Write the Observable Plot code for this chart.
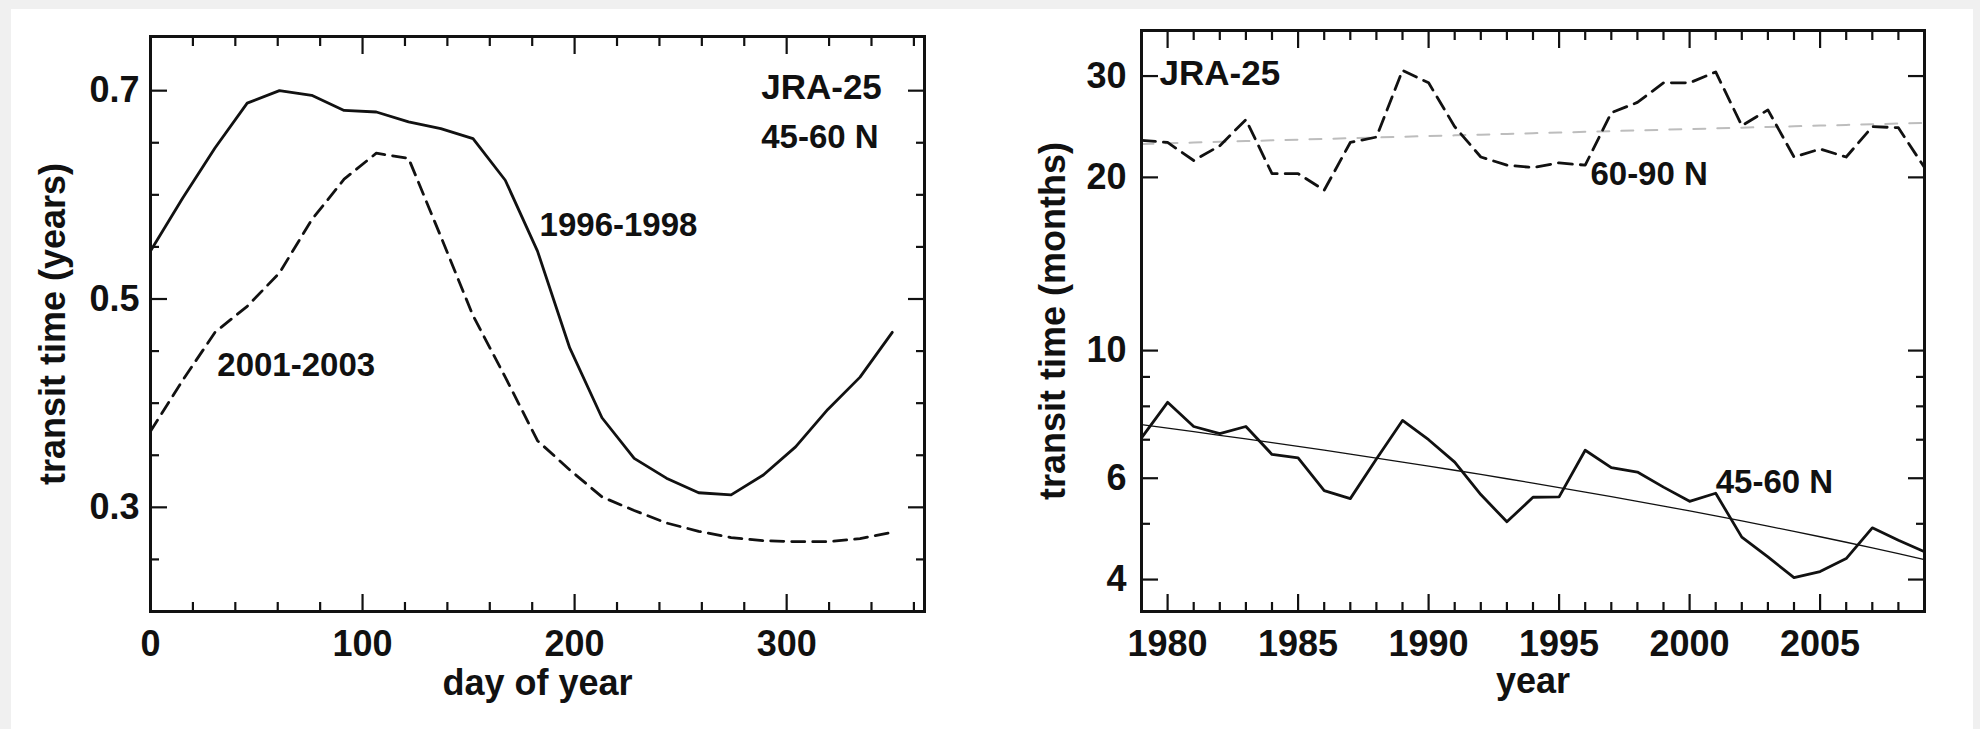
<!DOCTYPE html>
<html>
<head>
<meta charset="utf-8">
<script src="https://cdn.jsdelivr.net/npm/d3@7"></script>
<script src="https://cdn.jsdelivr.net/npm/@observablehq/plot@0.6"></script>
<style>
  html, body { margin: 0; padding: 0; background: #f0f0f0; width: 1980px; height: 729px; overflow: hidden; }
  #page { position: absolute; left: 11px; top: 9px; width: 1962px; height: 720px; background: #ffffff; }
  #left { position: absolute; left: 0; top: 0; }
  #right { position: absolute; left: 990px; top: 0; }
</style>
</head>
<body>
<div id="page"></div>
<div id="left"></div>
<div id="right"></div>
<script>
// ---------- Left panel data: seasonal transit time (years), 45-60 N ----------
const dayOfYear = [0, 15.2, 30.4, 45.6, 60.8, 76.0, 91.3, 106.5, 121.7, 136.9, 152.1, 167.3,
                   182.5, 197.7, 212.9, 228.1, 243.3, 258.5, 273.8, 289.0, 304.2, 319.4, 334.6, 349.8];
const transit1996_1998 = [0.546, 0.597, 0.645, 0.688, 0.700, 0.6955, 0.681, 0.6795, 0.670, 0.6635, 0.654, 0.614,
                          0.546, 0.453, 0.386, 0.347, 0.328, 0.314, 0.312, 0.331, 0.358, 0.394, 0.425, 0.468];
const transit2001_2003 = [0.373, 0.422, 0.468, 0.493, 0.525, 0.576, 0.615, 0.640, 0.635, 0.560, 0.484, 0.425,
                          0.364, 0.336, 0.310, 0.297, 0.285, 0.277, 0.271, 0.268, 0.267, 0.267, 0.270, 0.276];
const dayMajorTicks = [0, 100, 200, 300];
const dayMinorTicks = [20, 40, 60, 80, 120, 140, 160, 180, 220, 240, 260, 280, 320, 340, 360];
const yearsMajorTicks = [0.3, 0.5, 0.7];
const yearsMinorTicks = [0.25, 0.35, 0.4, 0.45, 0.55, 0.6, 0.65];

// ---------- Right panel data: annual transit time (months) ----------
const years = [1979, 1980, 1981, 1982, 1983, 1984, 1985, 1986, 1987, 1988, 1989, 1990, 1991, 1992, 1993, 1994,
               1995, 1996, 1997, 1998, 1999, 2000, 2001, 2002, 2003, 2004, 2005, 2006, 2007, 2008, 2009];
const transit45_60N = [7.05, 8.13, 7.38, 7.17, 7.38, 6.60, 6.51, 5.71, 5.53, 6.48, 7.56, 7.00, 6.40, 5.62, 5.04, 5.56,
                       5.57, 6.71, 6.26, 6.15, 5.79, 5.47, 5.65, 4.74, 4.38, 4.03, 4.13, 4.35, 4.92, 4.68, 4.47];
const transit60_90N = [23.2, 23.0, 21.4, 22.7, 25.2, 20.3, 20.3, 19.0, 23.0, 23.5, 30.7, 29.2, 24.5, 21.7, 21.0, 20.8,
                       21.2, 21.0, 25.9, 27.0, 29.2, 29.2, 30.5, 24.6, 26.2, 21.7, 22.4, 21.7, 24.5, 24.4, 20.8];
const yearMajorTicks = [1980, 1985, 1990, 1995, 2000, 2005];
const yearMinorTicks = years.filter(y => !yearMajorTicks.includes(y));
const monthsMajorTicks = [4, 6, 10, 20, 30];
const monthsMinorTicks = [5, 7, 8, 9];

// least-squares linear trend derived from the data
function linearFit(xs, ys) {
  const mx = d3.mean(xs), my = d3.mean(ys);
  let sxy = 0, sxx = 0;
  xs.forEach((x, i) => { sxy += (x - mx) * (ys[i] - my); sxx += (x - mx) ** 2; });
  const b = sxy / sxx;
  return xs.map(x => my + b * (x - mx));
}

const leftTable = dayOfYear.map((d, i) => ({day: d, a: transit1996_1998[i], b: transit2001_2003[i]}));
const trend45 = linearFit(years, transit45_60N);
const trend60 = linearFit(years, transit60_90N);
const rightTable = years.map((y, i) => ({year: y, s: transit45_60N[i], n: transit60_90N[i], ts: trend45[i], tn: trend60[i]}));

const FONT = "'Liberation Sans', Arial, Helvetica, sans-serif";
const INK = "#111";
const svgStyle = {fontFamily: FONT, fontSize: "36px", fontWeight: "bold", background: "transparent", color: INK};

function tickMarks(axis, anchor, ticks, size) {
  const fn = axis === "x" ? Plot.axisX : Plot.axisY;
  return fn({anchor, ticks, tickSize: -size, text: null, label: null, strokeWidth: 2.2, stroke: INK});
}

// ---------- Left plot ----------
const left = Plot.plot({
  width: 990, height: 729,
  marginLeft: 150, marginRight: 66, marginTop: 36, marginBottom: 118,
  style: svgStyle,
  x: {domain: [0, 365]},
  y: {domain: [0.2, 0.752]},
  marks: [
    tickMarks("x", "bottom", dayMajorTicks, 17),
    tickMarks("x", "bottom", dayMinorTicks, 9),
    tickMarks("x", "top", dayMajorTicks, 17),
    tickMarks("x", "top", dayMinorTicks, 9),
    tickMarks("y", "left", yearsMajorTicks, 17),
    tickMarks("y", "left", yearsMinorTicks, 9),
    tickMarks("y", "right", yearsMajorTicks, 17),
    tickMarks("y", "right", yearsMinorTicks, 9),
    Plot.axisX({anchor: "bottom", ticks: dayMajorTicks, tickSize: 0, tickPadding: 19, label: null, tickFormat: d => String(d), fontSize: 36, fill: INK}),
    Plot.axisY({anchor: "left", ticks: yearsMajorTicks, tickSize: 0, tickPadding: 11, label: null, tickFormat: d => d.toFixed(1), fontSize: 36, fill: INK}),
    Plot.line(leftTable, {x: "day", y: "b", stroke: INK, strokeWidth: 2.8, strokeDasharray: "13,8"}),
    Plot.line(leftTable, {x: "day", y: "a", stroke: INK, strokeWidth: 2.8}),
    Plot.text([{x: 288, y: 0.7027, t: "JRA-25"}], {x: "x", y: "y", text: "t", textAnchor: "start", lineAnchor: "middle", fontSize: 35, fill: INK}),
    Plot.text([{x: 288, y: 0.655, t: "45-60 N"}], {x: "x", y: "y", text: "t", textAnchor: "start", lineAnchor: "middle", fontSize: 33, fill: INK}),
    Plot.text([{x: 183.5, y: 0.5707, t: "1996-1998"}], {x: "x", y: "y", text: "t", textAnchor: "start", lineAnchor: "middle", fontSize: 33, fill: INK}),
    Plot.text([{x: 31.5, y: 0.4364, t: "2001-2003"}], {x: "x", y: "y", text: "t", textAnchor: "start", lineAnchor: "middle", fontSize: 33, fill: INK}),
    Plot.text(["transit time (years)"], {text: d => d, frameAnchor: "left", dx: -97, rotate: -90, textAnchor: "middle", lineAnchor: "middle", fontSize: 36, fill: INK}),
    Plot.text(["day of year"], {text: d => d, frameAnchor: "bottom", dy: 72, textAnchor: "middle", lineAnchor: "middle", fontSize: 36, fill: INK}),
    Plot.frame({stroke: INK, strokeWidth: 3})
  ]
});
document.getElementById("left").appendChild(left);

// ---------- Right plot ----------
const right = Plot.plot({
  width: 990, height: 729,
  marginLeft: 151, marginRight: 56, marginTop: 30, marginBottom: 118,
  style: svgStyle,
  x: {domain: [1979, 2009]},
  y: {type: "log", domain: [3.52, 36]},
  marks: [
    tickMarks("x", "bottom", yearMajorTicks, 17),
    tickMarks("x", "bottom", yearMinorTicks, 9),
    tickMarks("x", "top", yearMajorTicks, 17),
    tickMarks("x", "top", yearMinorTicks, 9),
    tickMarks("y", "left", monthsMajorTicks, 17),
    tickMarks("y", "left", monthsMinorTicks, 9),
    tickMarks("y", "right", monthsMajorTicks, 17),
    tickMarks("y", "right", monthsMinorTicks, 9),
    Plot.axisX({anchor: "bottom", ticks: yearMajorTicks, tickSize: 0, tickPadding: 19, label: null, tickFormat: d => String(d), fontSize: 36, fill: INK}),
    Plot.axisY({anchor: "left", ticks: monthsMajorTicks, tickSize: 0, tickPadding: 15, label: null, tickFormat: d => String(d), fontSize: 36, fill: INK}),
    Plot.line(rightTable, {x: "year", y: "tn", stroke: "#bdbdbd", strokeWidth: 2, strokeDasharray: "12,12"}),
    Plot.line(rightTable, {x: "year", y: "n", stroke: INK, strokeWidth: 2.8, strokeDasharray: "14,8"}),
    Plot.line(rightTable, {x: "year", y: "ts", stroke: INK, strokeWidth: 1.3}),
    Plot.line(rightTable, {x: "year", y: "s", stroke: INK, strokeWidth: 2.8}),
    Plot.text([{x: 1979.69, y: 30.3, t: "JRA-25"}], {x: "x", y: "y", text: "t", textAnchor: "start", lineAnchor: "middle", fontSize: 35, fill: INK}),
    Plot.text([{x: 1996.2, y: 20.25, t: "60-90 N"}], {x: "x", y: "y", text: "t", textAnchor: "start", lineAnchor: "middle", fontSize: 33, fill: INK}),
    Plot.text([{x: 2001.0, y: 5.89, t: "45-60 N"}], {x: "x", y: "y", text: "t", textAnchor: "start", lineAnchor: "middle", fontSize: 33, fill: INK}),
    Plot.text(["transit time (months)"], {text: d => d, frameAnchor: "left", dx: -88, rotate: -90, textAnchor: "middle", lineAnchor: "middle", fontSize: 36, fill: INK}),
    Plot.text(["year"], {text: d => d, frameAnchor: "bottom", dy: 70, textAnchor: "middle", lineAnchor: "middle", fontSize: 36, fill: INK}),
    Plot.frame({stroke: INK, strokeWidth: 3})
  ]
});
document.getElementById("right").appendChild(right);
</script>
</body>
</html>
